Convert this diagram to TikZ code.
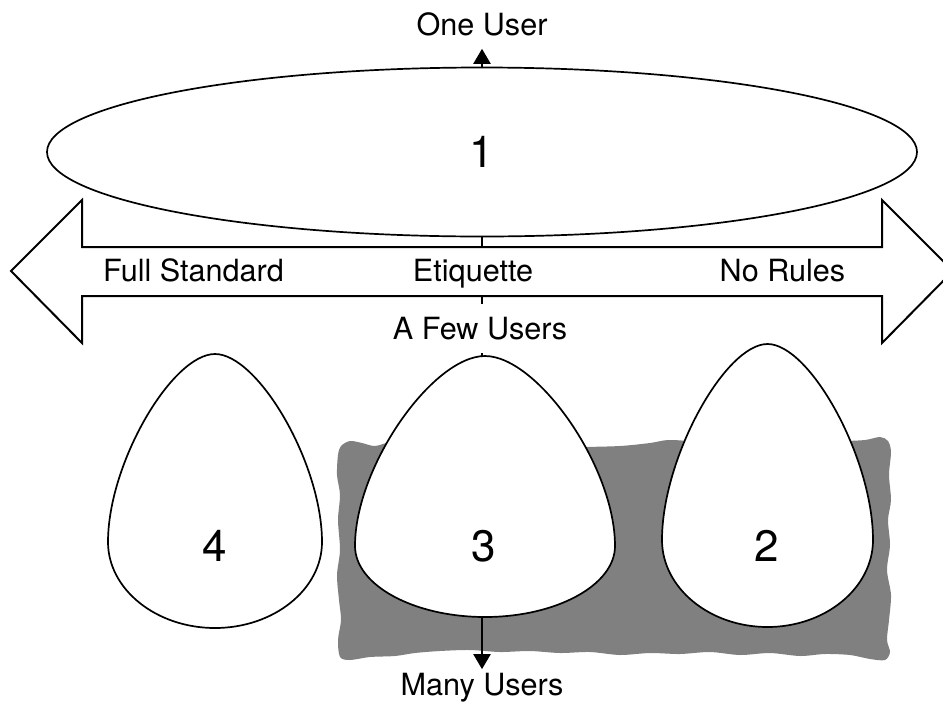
\documentclass[tikz,border=0pt]{standalone}
\usepackage{fontspec}
\setmainfont{TeX Gyre Heros}
\usetikzlibrary{arrows.meta,shapes.geometric}
\definecolor{blobgray}{HTML}{808080}

% egg outline: centre x, top y, widest y, bottom y, half width
\newcommand\drawegg[5]{%
  \draw[outline] (#1,#2)
    .. controls ({#1-0.4*#5},#2) and ({#1-#5},{#3-0.42*(#3-#2)}) .. ({#1-#5},#3)
    .. controls ({#1-#5},{#3+0.55*(#4-#3)}) and ({#1-0.55*#5},#4) .. (#1,#4)
    .. controls ({#1+0.55*#5},#4) and ({#1+#5},{#3+0.55*(#4-#3)}) .. ({#1+#5},#3)
    .. controls ({#1+#5},{#3-0.42*(#3-#2)}) and ({#1+0.4*#5},#2) .. cycle;}

\begin{document}
\begin{tikzpicture}[x=1pt,y=-1pt,
  lab/.style={font=\fontsize{30.6}{36}\selectfont},
  num/.style={font=\fontsize{44}{52}\selectfont},
  outline/.style={draw=black,line width=1.7pt,fill=white},
  axis/.style={line width=2.2pt,
    arrows={Triangle[length=15pt,width=17pt]-Triangle[length=15pt,width=17pt]}}]
\useasboundingbox (0,0) rectangle (943,702);
\clip (0,0) rectangle (943,702);

% rough grey backdrop behind eggs 3 and 2
\fill[blobgray] plot[smooth cycle, tension=0.5] coordinates {
  (338,455) (341,446) (350,441) (362,443) (375,446) (392,442) (420,444)
  (460,445) (500,446) (540,447) (580,447) (620,446) (650,443) (668,440)
  (690,441) (720,442) (760,441) (800,440) (840,441) (865,440) (880,437)
  (888,441) (891,452)
  (889,475) (891,500) (888,520) (890,545) (887,570) (891,595) (889,620)
  (887,640) (890,652) (885,660)
  (870,659) (850,655) (825,654) (800,656) (770,653) (740,655) (710,652)
  (680,654) (650,653) (620,655) (590,652) (560,653) (530,651) (500,652)
  (470,650) (440,651) (415,653) (395,656) (370,657) (350,660) (340,657)
  (338,640) (341,620) (339,600) (337,575) (340,550) (338,520) (340,495)
  (337,475)};

% vertical axis: many users -> one user
\node[lab,anchor=base] (one) at (482,35) {One User};
\node[lab,anchor=base] (many) at (482,695) {Many Users};
\draw[axis, shorten >=9.7pt] (many.north) -- (one.south);

% ellipse 1
\node[outline, ellipse, minimum width=870pt, minimum height=169pt,
      inner sep=0pt, num] (e1) at (482,152) {1};

% horizontal double arrow
\draw[outline, line width=2pt, line join=miter]
  (11,271) -- (82,200) -- (82,247) -- (882,247) -- (882,200) -- (953,271)
  -- (882,343) -- (882,296) -- (82,296) -- (82,343) -- cycle;
\node[lab,anchor=base] (full) at (193.5,281) {Full Standard};
\node[lab,anchor=base] (etq) at (473,281) {Etiquette};
\node[lab,anchor=base] (norules) at (782.5,281) {No Rules};

\node[lab,anchor=base,fill=white,inner xsep=3pt,inner ysep=13pt] (few) at (480,339) {A Few Users};

% eggs
\drawegg{215}{354}{542}{628}{107}
\drawegg{485}{356}{546}{617}{130}
\drawegg{767.5}{344}{540}{627}{105.5}
\node[num,anchor=base] (n4) at (215,561) {4};
\node[num,anchor=base] (n3) at (484,561) {3};
\node[num,anchor=base] (n2) at (767,561) {2};
\end{tikzpicture}
\end{document}
